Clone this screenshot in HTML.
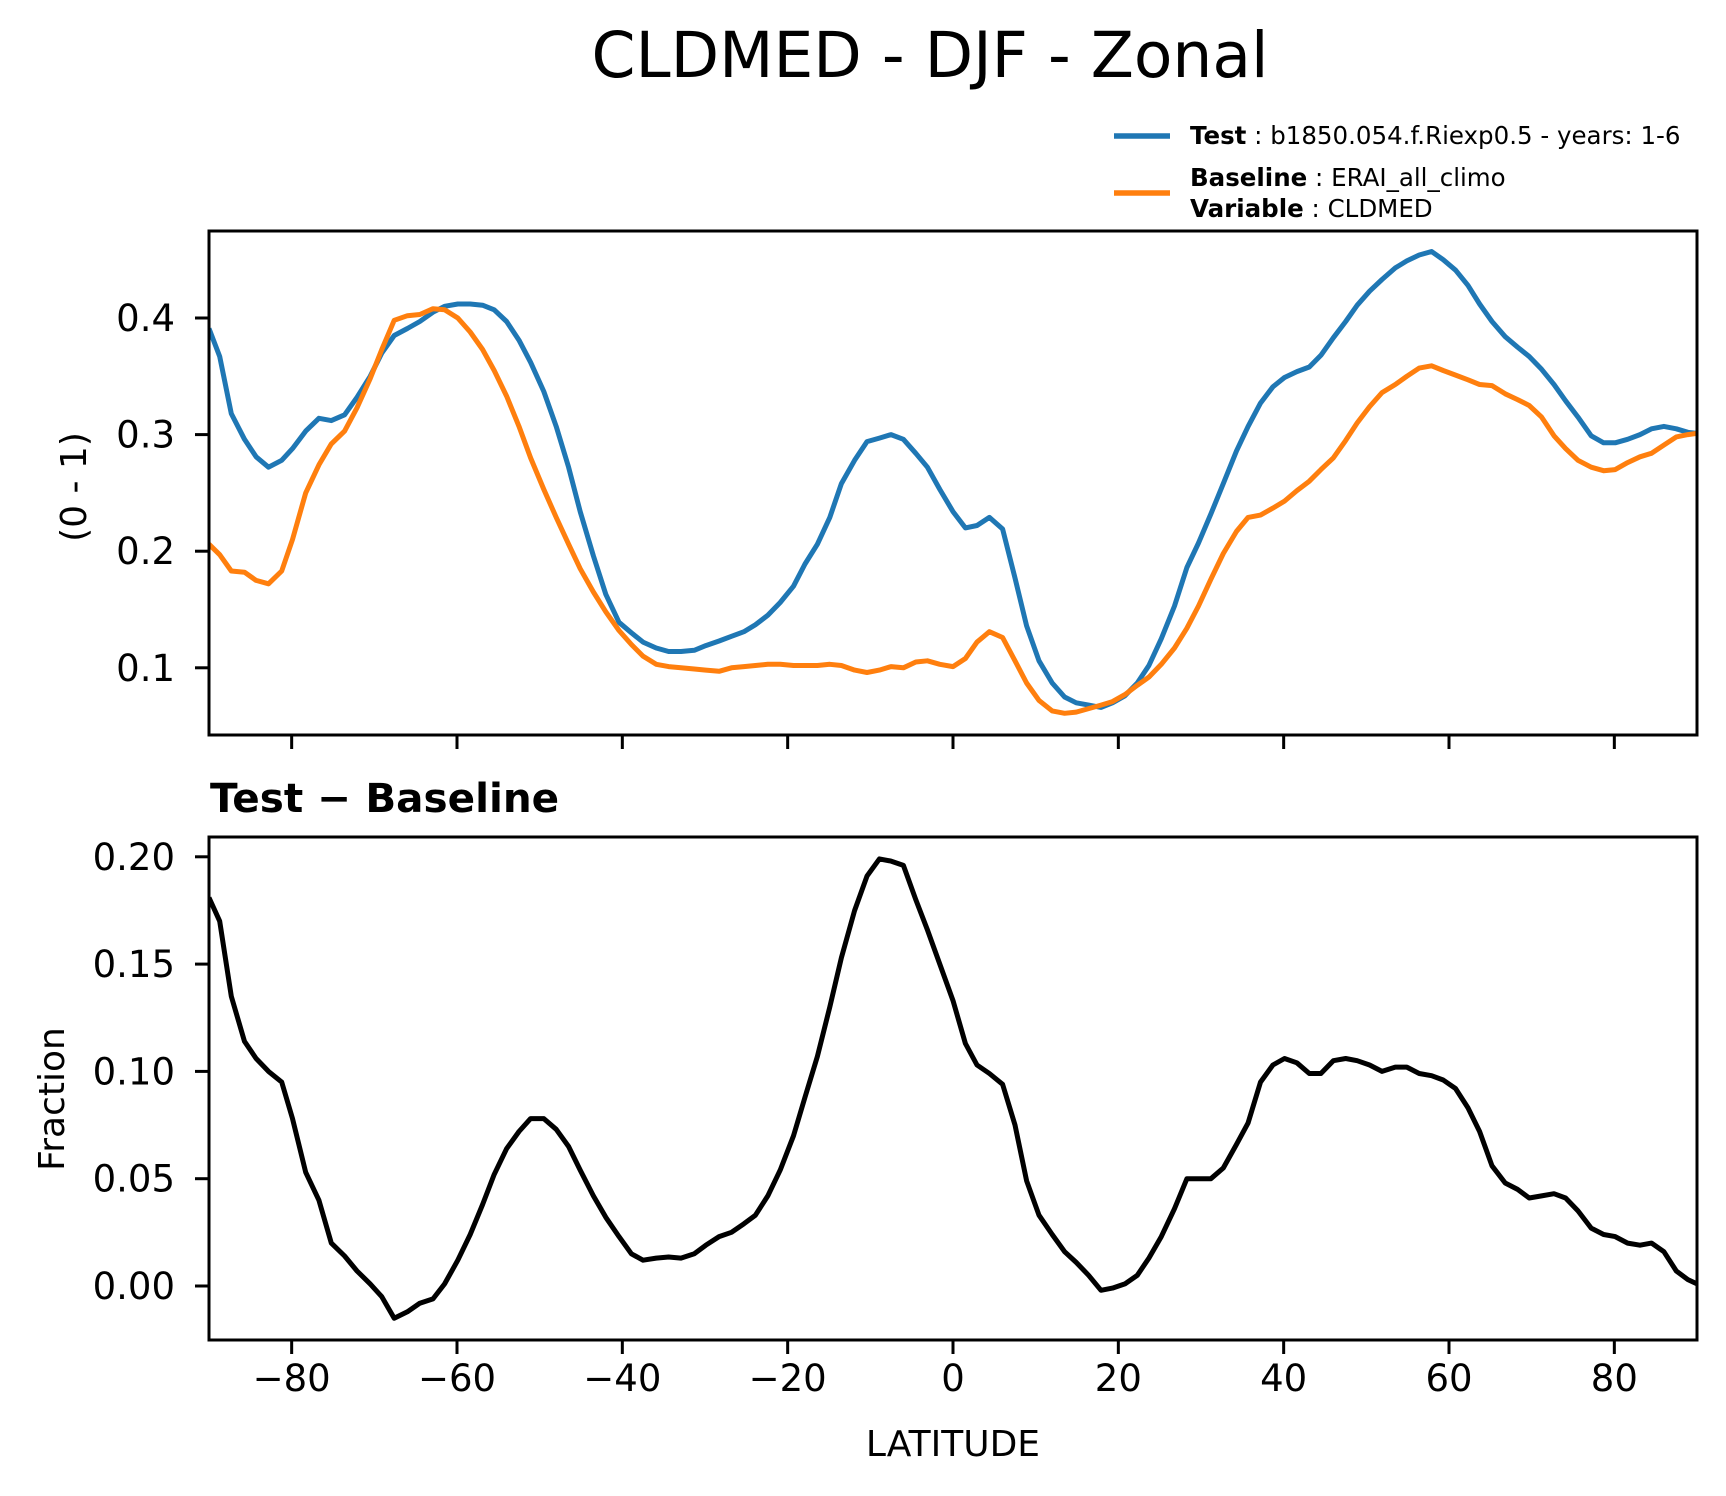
<!DOCTYPE html>
<html><head><meta charset="utf-8"><style>
html,body{margin:0;padding:0;background:#fff;}
svg{display:block;font-family:"DejaVu Sans","Liberation Sans",sans-serif;}
</style></head><body>
<svg id="chart" width="1726" height="1496" viewBox="0 0 1726 1496" xmlns="http://www.w3.org/2000/svg">
<rect width="1726" height="1496" fill="#fff"/>
<text x="930" y="77" font-size="63" text-anchor="middle">CLDMED - DJF - Zonal</text>
<g>
<line x1="1114" y1="136" x2="1170" y2="136" stroke="#1f77b4" stroke-width="5.5"/>
<text x="1190" y="144" font-size="24.5"><tspan font-weight="bold">Test</tspan> : b1850.054.f.Riexp0.5 - years: 1-6</text>
<line x1="1114" y1="193" x2="1170" y2="193" stroke="#ff7f0e" stroke-width="5.5"/>
<text x="1190" y="186" font-size="24.5"><tspan font-weight="bold">Baseline</tspan> : ERAI_all_climo</text>
<text x="1190" y="217" font-size="24.5"><tspan font-weight="bold">Variable</tspan> : CLDMED</text>
</g>
<text x="210" y="812" font-size="40.5" font-weight="bold">Test − Baseline</text>
<text transform="translate(86,487) rotate(-90)" font-size="36" text-anchor="middle">(0 - 1)</text>
<text transform="translate(64,1099) rotate(-90)" font-size="36" text-anchor="middle">Fraction</text>
<text x="953" y="1456" font-size="36" text-anchor="middle">LATITUDE</text>
<g id="top"></g>
<g id="bot"></g>
</svg>
<script>
const lats=[-90,-88.7,-87.3,-85.7,-84.3,-82.8,-81.2,-79.9,-78.3,-76.7,-75.2,-73.6,-72.1,-70.5,-69.1,-67.6,-66,-64.5,-62.9,-61.5,-59.9,-58.4,-56.9,-55.5,-54,-52.5,-51.1,-49.5,-48,-46.5,-45.1,-43.5,-42,-40.4,-38.9,-37.5,-35.9,-34.4,-32.9,-31.3,-29.9,-28.3,-26.8,-25.3,-23.9,-22.4,-20.9,-19.3,-17.9,-16.4,-14.9,-13.5,-11.9,-10.4,-8.9,-7.5,-6,-4.5,-3.1,-1.6,0,1.5,2.9,4.4,6,7.5,8.9,10.4,12,13.5,14.9,16.4,17.9,19.3,20.8,22.3,23.7,25.2,26.8,28.3,29.7,31.2,32.7,34.3,35.7,37.2,38.7,40.1,41.6,43.1,44.5,46,47.5,48.9,50.4,51.9,53.5,54.9,56.4,57.9,59.3,60.8,62.3,63.7,65.2,66.8,68.3,69.7,71.2,72.7,74.1,75.6,77.2,78.7,80.1,81.6,83.1,84.5,86,87.5,88.9,90];
const testVals=[0.391,0.367,0.318,0.296,0.281,0.272,0.278,0.288,0.303,0.314,0.312,0.317,0.332,0.35,0.37,0.385,0.391,0.397,0.405,0.41,0.412,0.412,0.411,0.407,0.397,0.381,0.362,0.337,0.307,0.272,0.234,0.196,0.163,0.139,0.13,0.122,0.117,0.114,0.114,0.115,0.119,0.123,0.127,0.131,0.137,0.145,0.156,0.17,0.189,0.206,0.229,0.258,0.278,0.294,0.297,0.30,0.296,0.284,0.272,0.253,0.234,0.22,0.222,0.229,0.219,0.177,0.136,0.106,0.087,0.075,0.07,0.068,0.066,0.07,0.076,0.087,0.102,0.125,0.153,0.186,0.207,0.232,0.258,0.286,0.307,0.327,0.341,0.349,0.354,0.358,0.368,0.383,0.397,0.411,0.423,0.433,0.443,0.449,0.454,0.457,0.45,0.441,0.428,0.412,0.397,0.384,0.375,0.367,0.356,0.343,0.329,0.315,0.299,0.293,0.293,0.296,0.30,0.305,0.307,0.305,0.302,0.301];
const baseVals=[0.206,0.197,0.183,0.182,0.175,0.172,0.183,0.21,0.25,0.274,0.292,0.303,0.323,0.348,0.373,0.398,0.402,0.403,0.408,0.407,0.40,0.388,0.373,0.355,0.333,0.307,0.28,0.253,0.229,0.206,0.185,0.165,0.148,0.132,0.12,0.11,0.103,0.101,0.10,0.099,0.098,0.097,0.10,0.101,0.102,0.103,0.103,0.102,0.102,0.102,0.103,0.102,0.098,0.096,0.098,0.101,0.10,0.105,0.106,0.103,0.101,0.108,0.122,0.131,0.126,0.106,0.087,0.072,0.063,0.061,0.062,0.065,0.068,0.071,0.077,0.085,0.092,0.103,0.117,0.134,0.153,0.176,0.198,0.217,0.229,0.231,0.237,0.243,0.252,0.26,0.27,0.28,0.295,0.31,0.324,0.336,0.343,0.35,0.357,0.359,0.355,0.351,0.347,0.343,0.342,0.335,0.33,0.325,0.315,0.299,0.288,0.278,0.272,0.269,0.27,0.276,0.281,0.284,0.291,0.298,0.30,0.301];
const diffVals=[0.181,0.170,0.135,0.114,0.106,0.100,0.095,0.078,0.053,0.040,0.020,0.014,0.007,0.001,-0.005,-0.015,-0.012,-0.008,-0.006,0.001,0.012,0.024,0.038,0.052,0.064,0.072,0.078,0.078,0.073,0.065,0.054,0.042,0.032,0.023,0.015,0.012,0.013,0.0135,0.013,0.015,0.019,0.023,0.025,0.029,0.033,0.042,0.054,0.070,0.088,0.107,0.13,0.153,0.175,0.191,0.199,0.198,0.196,0.18,0.166,0.15,0.133,0.113,0.103,0.099,0.094,0.075,0.049,0.033,0.024,0.016,0.011,0.005,-0.002,-0.001,0.001,0.005,0.013,0.023,0.036,0.05,0.05,0.05,0.055,0.066,0.076,0.095,0.103,0.106,0.104,0.099,0.099,0.105,0.106,0.105,0.103,0.1,0.102,0.102,0.099,0.098,0.096,0.092,0.083,0.072,0.056,0.048,0.045,0.041,0.042,0.043,0.041,0.035,0.027,0.024,0.023,0.020,0.019,0.020,0.016,0.007,0.003,0.001];
const xTicks=[-80,-60,-40,-20,0,20,40,60,80];
const xTickLabels=["−80","−60","−40","−20","0","20","40","60","80"];
const topTicks=[0.1,0.2,0.3,0.4];
const topTickLabels=["0.1","0.2","0.3","0.4"];
const botTicks=[0,0.05,0.1,0.15,0.2];
const botTickLabels=["0.00","0.05","0.10","0.15","0.20"];

const NS="http://www.w3.org/2000/svg";
const L=209,R=1697;
function x(lat){return L+(lat+90)/180*(R-L);}
function yTop(v){return 318-(v-0.4)*1166;}
function yBot(v){return 1286-v*2146;}
function mk(parent,tag,attrs){const e=document.createElementNS(NS,tag);for(const k in attrs)e.setAttribute(k,attrs[k]);parent.appendChild(e);return e;}

function panel(g,top,bot,yf,ticks,labels,showX,prefix){
  ticks.forEach((t,i)=>{
    const yy=yf(t);
    const tk=mk(g,'line',{x1:L-14,x2:L,y1:yy,y2:yy,stroke:'#000','stroke-width':3});
    
    
    const tx=mk(g,'text',{x:L-34,y:yy+13,'font-size':37,'text-anchor':'end'});
    tx.textContent=labels[i];
    
    
  });
  xTicks.forEach((t,i)=>{
    const xx=x(t);
    const tk=mk(g,'line',{x1:xx,x2:xx,y1:bot,y2:bot+14,stroke:'#000','stroke-width':3});
    
    
    if(showX){
      const tx=mk(g,'text',{x:xx,y:bot+51,'font-size':37,'text-anchor':'middle'});
      tx.textContent=xTickLabels[i];
      
      
    }
  });
}
function series(g,vals,yf,color,name){
  const d=lats.map((la,i)=>(i?'L':'M')+x(la).toFixed(1)+' '+yf(vals[i]).toFixed(1)).join(' ');
  const p=mk(g,'path',{d:d,fill:'none',stroke:color,'stroke-width':5,'stroke-linejoin':'round'});
  
  
}
const gt=document.getElementById('top');


const gb=document.getElementById('bot');


const T0=231,T1=735,B0=837,B1=1340;
const cp1=mk(gt,'clipPath',{id:'c1'});mk(cp1,'rect',{x:L,y:T0,width:R-L,height:T1-T0});
const cp2=mk(gb,'clipPath',{id:'c2'});mk(cp2,'rect',{x:L,y:B0,width:R-L,height:B1-B0});
const s1=mk(gt,'g',{'clip-path':'url(#c1)'});


series(s1,testVals,yTop,'#1f77b4','test-line');
series(s1,baseVals,yTop,'#ff7f0e','baseline-line');
const s2=mk(gb,'g',{'clip-path':'url(#c2)'});


series(s2,diffVals,yBot,'#000','difference-line');
const f1=mk(gt,'rect',{x:L,y:T0,width:R-L,height:T1-T0,fill:'none',stroke:'#000','stroke-width':3});


const f2=mk(gb,'rect',{x:L,y:B0,width:R-L,height:B1-B0,fill:'none',stroke:'#000','stroke-width':3});


panel(gt,T0,T1,yTop,topTicks,topTickLabels,false,'top');
panel(gb,B0,B1,yBot,botTicks,botTickLabels,true,'diff');
</script>
</body></html>
